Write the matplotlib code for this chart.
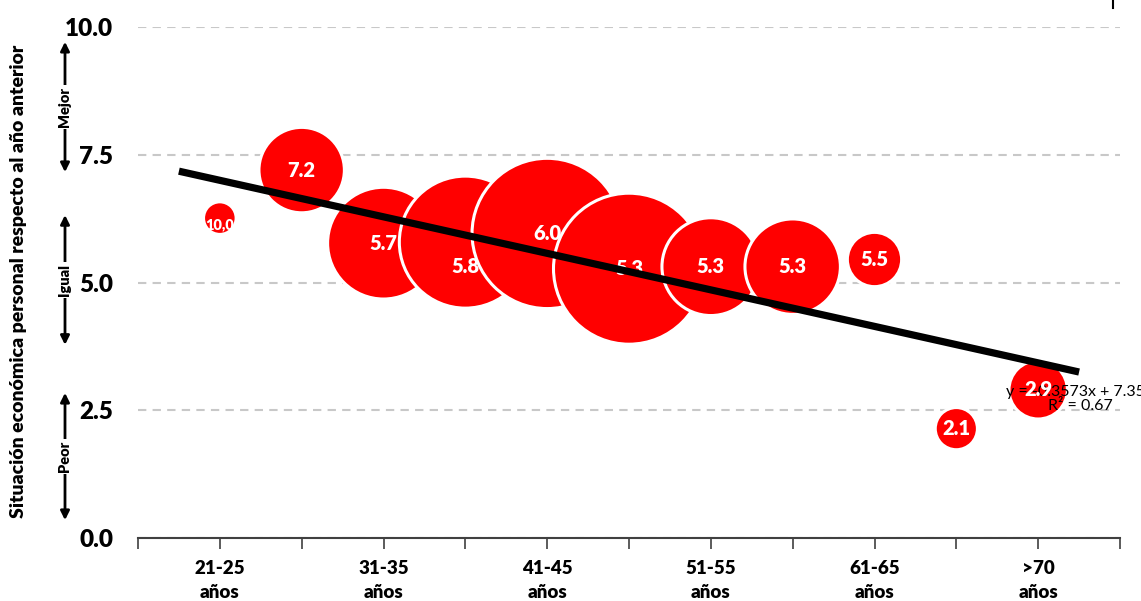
import numpy as np
import matplotlib.pyplot as plt
import matplotlib.transforms as mtransforms
from matplotlib.lines import Line2D

plt.rcParams['font.family'] = ['Lato', 'DejaVu Sans']

# datos
edades = ['21-25', '26-30', '31-35', '36-40', '41-45', '46-50',
          '51-55', '56-60', '61-65', '66-70', '>70']
situacion = [6.26, 7.2, 5.77, 5.79, 5.96, 5.27, 5.31, 5.31, 5.45, 2.14, 2.9]
tamano = [4, 31, 54, 76, 99, 100, 41, 39, 12, 7, 14]
etiquetas = ['10,0', '7.2', '5.7', '5.8', '6.0', '5.3', '5.3', '5.3', '5.5', '2.1', '2.9']

pendiente = -0.3573
ordenada = 7.357
r2 = 0.67

franjas = [(0.35, 2.84, 'Peor'), (3.78, 6.32, 'Igual'), (7.16, 9.71, 'Mejor')]

W, H = 1141, 601
fig = plt.figure(figsize=(W/100, H/100), dpi=100)
ax = fig.add_axes([138/W, 1 - 538/H, (1120 - 138)/W, (538 - 27)/H])

x = np.arange(1, len(edades) + 1)
peso = 'heavy'

# radio visible en pixeles proporcional al area
r_px = 74*np.sqrt(np.array(tamano)/max(tamano))
d_pt = 2*(r_px + 1.5)*0.72
ax.scatter(x, situacion, s=d_pt**2, color='#ff0000', edgecolor='white',
           linewidth=2.2, zorder=2)

desplaz = {3: -24, 0: -7}
for i, (xi, yi, lab) in enumerate(zip(x, situacion, etiquetas)):
    fs = 10.5 if i == 0 else 14.5
    ax.annotate(lab, (xi, yi), xytext=(0, desplaz.get(i, 0)*0.72),
                textcoords='offset points', ha='center', va='center',
                color='white', fontweight=peso, fontsize=fs, zorder=3)

# linea de tendencia
xt = np.array([0.5, len(edades) + 0.5])
ax.plot(xt, pendiente*xt + ordenada, color='black', lw=5.2,
        solid_capstyle='butt', zorder=4)
ax.text(11.51, 2.72, f'y = {pendiente}x + {ordenada}\nR² = {r2}',
        ha='center', va='center', fontsize=11.5, color='black',
        linespacing=1.0, zorder=2.5, clip_on=False)

ax.set_xlim(0, 12)
ax.set_ylim(0, 10)
ax.set_yticks([0, 2.5, 5, 7.5, 10])
ax.set_yticklabels(['%.1f' % v for v in [0, 2.5, 5, 7.5, 10]],
                   fontsize=17.5, fontweight=peso)
ax.set_xticks(np.arange(0, 13))
ax.set_xticklabels([''] + [e + '\naños' if i % 2 == 0 else '' for i, e in enumerate(edades)] + [''],
                   fontsize=13.5, fontweight=peso, linespacing=1.45)
ax.tick_params(axis='y', length=0, pad=18)
ax.tick_params(axis='x', length=8, width=1.2, color='#404040', pad=8, direction='out')

ax.yaxis.grid(True, color='#c8c8c8', linestyle=(0, (4, 3)), lw=1.5, zorder=0)
ax.set_axisbelow(True)
for s in ['top', 'right', 'left']:
    ax.spines[s].set_visible(False)
ax.spines['bottom'].set_color('#404040')
ax.spines['bottom'].set_linewidth(1.5)

fig.text(19/W, 1 - 281/H, 'Situación económica personal respecto al año anterior',
         rotation=90, ha='center', va='center', fontsize=14, fontweight=peso)

trans = mtransforms.blended_transform_factory(ax.transAxes, ax.transData)
xa = (65 - 138)/(1120 - 138)
for y0, y1, txt in franjas:
    ax.annotate('', xy=(xa, y1), xytext=(xa, y0), xycoords=trans, textcoords=trans,
                arrowprops=dict(arrowstyle='<|-|>', lw=2, color='black',
                                mutation_scale=13, shrinkA=0, shrinkB=0),
                annotation_clip=False)
    ax.text(xa, (y0 + y1)/2, txt, transform=trans, rotation=90, ha='center',
            va='center', fontsize=10.5, fontweight=peso, clip_on=False,
            bbox=dict(facecolor='white', edgecolor='none', pad=1.5))

fig.add_artist(Line2D([1113/W, 1113/W], [1, 1 - 8/H], color='black', lw=1.5))

fig.savefig('out.png', dpi=100)
